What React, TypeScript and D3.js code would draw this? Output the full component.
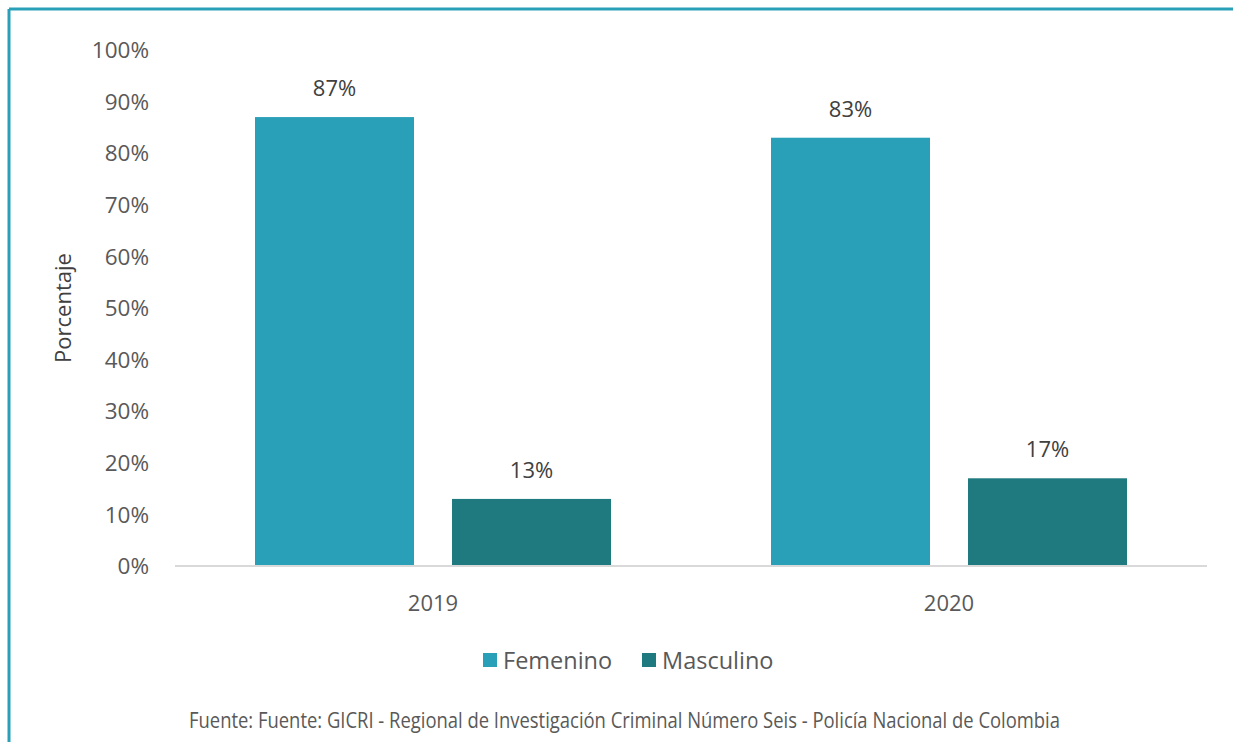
import React from "react";
import * as d3 from "d3";

const categories = ["2019", "2020"];
const seriesNames = ["Femenino", "Masculino"];
const femenino = [0.87, 0.83];
const masculino = [0.13, 0.17];
const yTicks = [0, 0.1, 0.2, 0.3, 0.4, 0.5, 0.6, 0.7, 0.8, 0.9, 1.0];
const colors = ["#2a9fb8", "#1f7a80"];
const sourceText = "Fuente: Fuente: GICRI - Regional de Investigación Criminal Número Seis - Policía Nacional de Colombia";

export default function App() {
  const W = 1233, H = 742;
  const left = 175, right = 1207, top = 50, bottom = 566;
  const font = "'Open Sans', Lato, sans-serif";
  const x0 = d3.scaleBand().domain(categories).range([left, right]).paddingInner(0).paddingOuter(0);
  const x1 = d3.scaleBand().domain(seriesNames).range([0, x0.bandwidth()]).paddingInner(0.193).paddingOuter(0.406);
  const y = d3.scaleLinear().domain([0, 1]).range([bottom, top]);
  const series = [femenino, masculino];
  const fmt = d3.format(".0%");

  return (
    <svg width={W} height={H} style={{ position: "absolute", left: 0, top: 0, background: "#fff" }}>
      <rect x={0} y={0} width={W} height={H} fill="#fff" />
      <line x1={9} y1={9} x2={W} y2={9} stroke="#2a9fb8" strokeWidth={3} />
      <line x1={9} y1={9} x2={9} y2={H} stroke="#2a9fb8" strokeWidth={3} />
      {yTicks.map((t) => (
        <text key={t} x={149} y={y(t)} dy="0.36em" textAnchor="end" fontFamily={font} fontSize={22.5} fill="#595959">
          {fmt(t)}
        </text>
      ))}
      <text transform={`translate(71,${(top + bottom) / 2}) rotate(-90)`} textAnchor="middle" fontFamily={font} fontSize={22} fill="#404040">
        Porcentaje
      </text>
      {categories.map((c, ci) => (
        <g key={c}>
          {seriesNames.map((s, si) => {
            const v = series[si][ci];
            const bx = (x0(c) as number) + (x1(s) as number);
            return (
              <g key={s}>
                <rect x={bx} y={y(v)} width={x1.bandwidth()} height={bottom - y(v)} fill={colors[si]} />
                <text x={bx + x1.bandwidth() / 2} y={y(v) - 21} textAnchor="middle" fontFamily={font} fontSize={22} fill="#404040">
                  {fmt(v)}
                </text>
              </g>
            );
          })}
          <text x={(x0(c) as number) + x0.bandwidth() / 2} y={611} textAnchor="middle" fontFamily={font} fontSize={22} fill="#595959">
            {c}
          </text>
        </g>
      ))}
      <line x1={left} y1={bottom} x2={right} y2={bottom} stroke="#d9d9d9" strokeWidth={2} />
      {seriesNames.map((s, i) => {
        const lx = i === 0 ? 483 : 642;
        return (
          <g key={s}>
            <rect x={lx} y={653} width={14} height={14} fill={colors[i]} />
            <text x={lx + 20} y={669} fontFamily={font} fontSize={23.5} fill="#595959">{s}</text>
          </g>
        );
      })}
      <text x={189} y={728} fontFamily="'Open Sans', sans-serif" fontSize={21} fill="#595959" textLength={871} lengthAdjust="spacingAndGlyphs">
        {sourceText}
      </text>
    </svg>
  );
}
